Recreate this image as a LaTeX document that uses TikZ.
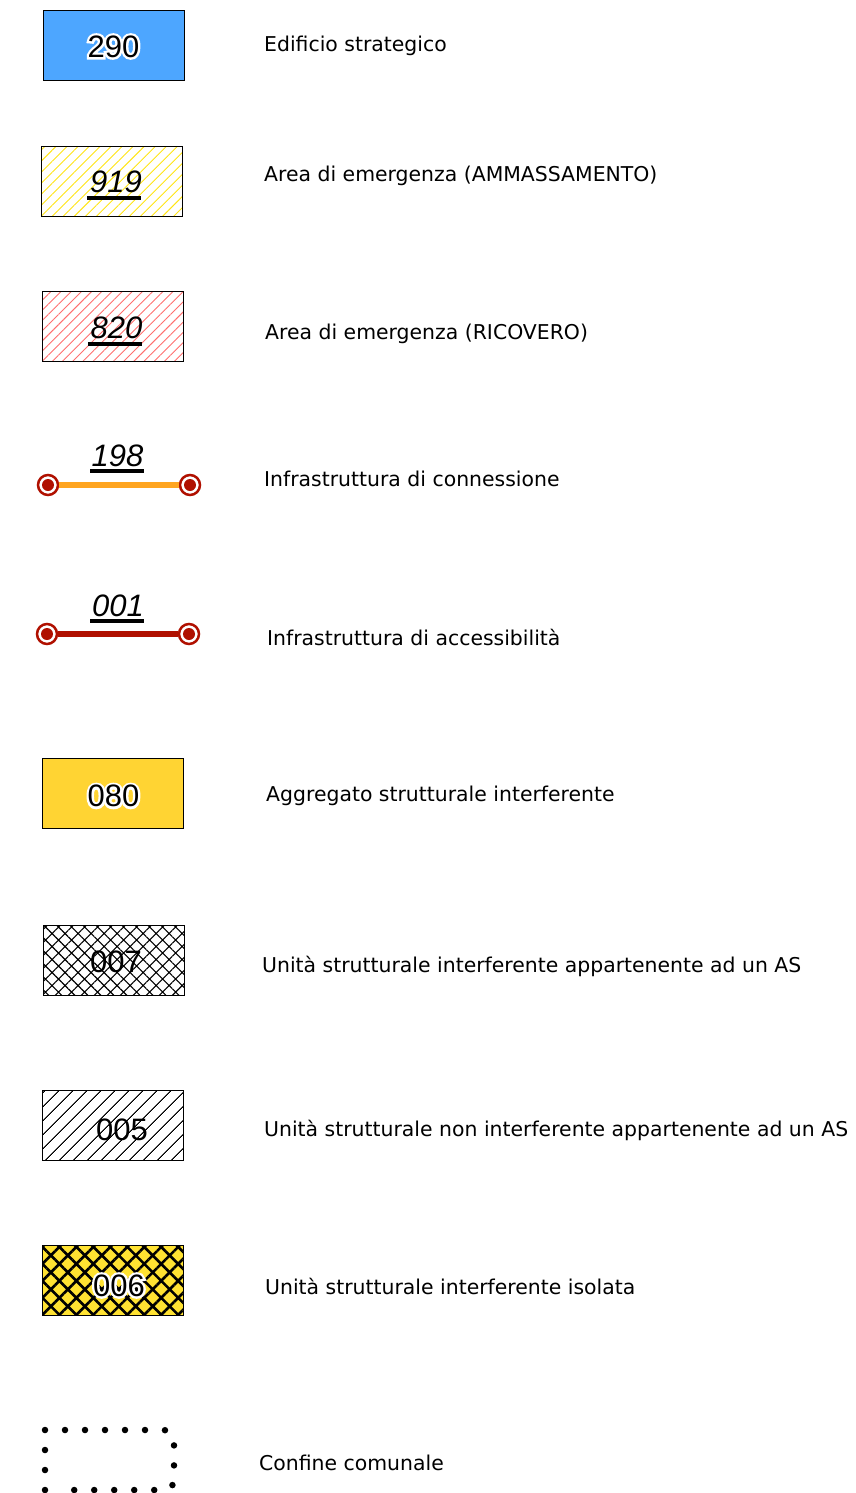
\documentclass[tikz,border=0pt]{standalone}
\usepackage{fontspec}
\usetikzlibrary{patterns.meta}
\newfontfamily\numfont{Liberation Sans}
\newfontfamily\halofont{Liberation Sans}[FakeBold=15]
\newfontfamily\labfont{DejaVu Sans}
\definecolor{strblue}{RGB}{77,166,255}
\definecolor{aggyellow}{RGB}{255,212,51}
\definecolor{isoyellow}{RGB}{255,226,50}
\definecolor{hatchyellow}{RGB}{255,228,20}
\definecolor{hatchred}{RGB}{255,110,110}
\definecolor{conorange}{RGB}{255,165,32}
\definecolor{accred}{RGB}{176,16,0}
\newcommand\halotext[1]{%
  \rlap{\halofont\color{white}#1}#1}
\begin{document}
\begin{tikzpicture}[x=1pt,y=-1pt,
  box/.style={draw=black, line width=1pt, minimum width=141pt, minimum height=70pt, inner sep=0pt},
  num/.style={font=\numfont\fontsize{31}{31}\selectfont, inner sep=0pt},
  inum/.style={font=\numfont\itshape\fontsize{31}{31}\selectfont, inner sep=0pt},
  lab/.style={anchor=base west, font=\labfont\fontsize{20.4}{24}\selectfont, inner sep=0pt},
  uline/.style={line width=3.5pt},
  endpt/.style={circle, draw=accred, line width=2.5pt, fill=white, minimum size=20pt, inner sep=0pt,
    path picture={\fill[accred] (path picture bounding box.center) circle (6pt);}},
  border/.style={line width=6.5pt, line cap=round, dash pattern=on 0pt off 20pt}
]
\useasboundingbox (0,0) rectangle (855,1493);

% 1 Edificio strategico
\node[box, fill=strblue] (b1) at (113.5,46) {};
\node[num] (n1) at (113.5,46.5) {\halotext{290}};
\node[lab] (l1) at (264,52) {Edificio strategico};

% 2 Ammassamento
\node[box, pattern={Lines[angle=45,distance=7.8pt,line width=0.9pt]}, pattern color=hatchyellow] (b2) at (111.5,181) {};
\node[inum] (n2) at (116,181.5) {919};
\draw[uline] (87,198) -- (141,198);
\node[lab] (l2) at (264,181) {Area di emergenza (AMMASSAMENTO)};

% 3 Ricovero
\node[box, pattern={Lines[angle=45,distance=7.2pt,line width=0.9pt]}, pattern color=hatchred] (b3) at (112.5,326) {};
\node[inum] (n3) at (116.5,328) {820};
\draw[uline] (88,344) -- (142,344);
\node[lab] (l3) at (265,339) {Area di emergenza (RICOVERO)};

% 4 connessione
\node[endpt] (p4a) at (48,485) {};
\node[endpt] (p4b) at (190,485) {};
\draw[conorange, line width=5.5pt] (p4a) -- (p4b);
\node[inum] (n4) at (117.5,456) {198};
\draw[uline] (90,471) -- (144,471);
\node[lab] (l4) at (264,486) {Infrastruttura di connessione};

% 5 accessibilita
\node[endpt] (p5a) at (47,634) {};
\node[endpt] (p5b) at (189,634) {};
\draw[accred, line width=5.5pt] (p5a) -- (p5b);
\node[inum] (n5) at (118,606) {001};
\draw[uline] (90,621) -- (144,621);
\node[lab] (l5) at (267,645) {Infrastruttura di accessibilità};

% 6 aggregato
\node[box, fill=aggyellow] (b6) at (112.5,793.5) {};
\node[num] (n6) at (113.5,796) {\halotext{080}};
\node[lab] (l6) at (266,801) {Aggregato strutturale interferente};

% 7 US interferente AS
\node[box, fill=white, pattern={Hatch[angle=45,distance=9.2pt,line width=1.1pt]}, pattern color=black] (b7) at (113.5,960) {};
\node[num] (n7) at (116,961.5) {007};
\node[lab] (l7) at (262,972) {Unità strutturale interferente appartenente ad un AS};

% 8 US non interferente AS
\node[box, pattern={Lines[angle=45,distance=10.5pt,line width=1pt]}, pattern color=black] (b8) at (112.5,1125) {};
\node[num] (n8) at (122,1130) {005};
\node[lab] (l8) at (264,1136) {Unità strutturale non interferente appartenente ad un AS};

% 9 US interferente isolata
\node[box, preaction={fill=isoyellow}, pattern={Hatch[angle=45,distance=12pt,line width=2.6pt]}, pattern color=black] (b9) at (112.5,1280) {};
\node[num] (n9) at (119,1285.5) {\halotext{006}};
\node[lab] (l9) at (265,1294) {Unità strutturale interferente isolata};

% 10 confine comunale
\draw[border] (45,1490) -- (45,1430) -- (164,1430) to[out=0,in=90] (174,1440) -- (174,1480) to[out=-90,in=0] (164,1490) -- (56,1490);
\node[lab] (l10) at (259,1470) {Confine comunale};
\end{tikzpicture}
\end{document}
